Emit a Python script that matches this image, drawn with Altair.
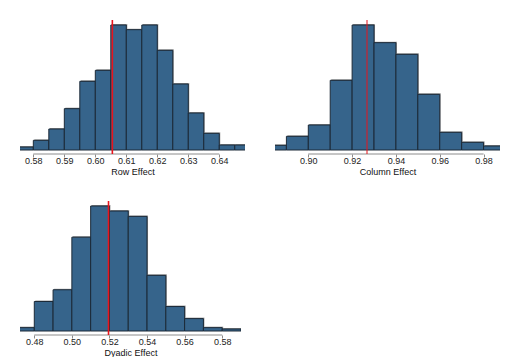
import altair as alt
import pandas as pd

# ---------------- data ----------------
row_bin_start = [0.575, 0.580, 0.585, 0.590, 0.595, 0.600, 0.605, 0.610,
                 0.615, 0.620, 0.625, 0.630, 0.635, 0.640, 0.645]
row_bin_end = [0.580, 0.585, 0.590, 0.595, 0.600, 0.605, 0.610, 0.615,
               0.620, 0.625, 0.630, 0.635, 0.640, 0.645, 0.650]
row_counts = [9, 29, 63, 124, 206, 239, 375, 361, 375, 299, 198, 111, 50, 15, 15]
row_ticks = [0.58, 0.59, 0.60, 0.61, 0.62, 0.63, 0.64]
row_domain = [0.5757, 0.6483]
row_obs = 0.6055

col_bin_start = [0.88, 0.89, 0.90, 0.91, 0.92, 0.93, 0.94, 0.95, 0.96, 0.97, 0.98]
col_bin_end = [0.89, 0.90, 0.91, 0.92, 0.93, 0.94, 0.95, 0.96, 0.97, 0.98, 0.99]
col_counts = [14, 41, 75, 209, 375, 322, 287, 167, 53, 23, 12]
col_ticks = [0.90, 0.92, 0.94, 0.96, 0.98]
col_domain = [0.8848, 0.9875]
col_obs = 0.9268

dy_bin_start = [0.47, 0.48, 0.49, 0.50, 0.51, 0.52, 0.53, 0.54, 0.55, 0.56, 0.57, 0.58]
dy_bin_end = [0.48, 0.49, 0.50, 0.51, 0.52, 0.53, 0.54, 0.55, 0.56, 0.57, 0.58, 0.59]
dy_counts = [10, 88, 123, 280, 373, 358, 342, 166, 73, 37, 10, 6]
dy_ticks = [0.48, 0.50, 0.52, 0.54, 0.56, 0.58]
dy_domain = [0.4724, 0.5900]
dy_obs = 0.5195

FILL = "#36648B"
EDGE = "#1c2a38"
SHADOW = "#9a9a9a"
AXIS_GREY = "#8c8c8c"
H = 134


def panel(starts, ends, counts, ticks, xdom, obs, title, width, red_w):
    df = pd.DataFrame({"start": starts, "end": ends, "count": counts})
    df["zero"] = 0
    m = max(counts)
    ydom = [-4 * m / 125.0, m + 5 * m / 125.0]
    xs = alt.Scale(domain=xdom, nice=False, zero=False)
    ys = alt.Scale(domain=ydom, nice=False, zero=False)

    xaxis = alt.Axis(values=ticks, format=".2f", title=title, domain=False,
                     grid=False, tickSize=3, tickColor=AXIS_GREY,
                     labelPadding=-1, titlePadding=2, labelFontSize=9,
                     labelOverlap=False, labelBound=False,
                     titleFontSize=9, titleFontWeight="normal",
                     labelColor="#222222", titleColor="#111111",
                     labelFont="Liberation Sans", titleFont="Liberation Sans")

    base = alt.Chart(df)
    shadow = base.mark_bar(fill=SHADOW, clip=True, xOffset=1, x2Offset=1,
                           yOffset=-1).encode(
        x=alt.X("start:Q", scale=xs, axis=xaxis),
        x2="end:Q",
        y=alt.Y("count:Q", scale=ys, axis=None),
        y2="zero:Q",
    )
    bars = base.mark_bar(fill=FILL, stroke=EDGE, strokeWidth=1,
                         clip=True).encode(
        x=alt.X("start:Q", scale=xs, axis=xaxis),
        x2="end:Q",
        y=alt.Y("count:Q", scale=ys, axis=None),
        y2="zero:Q",
    )
    axisline = alt.Chart(pd.DataFrame({"a": [ticks[0]], "b": [ticks[-1]]})).mark_rule(
        color=AXIS_GREY, strokeWidth=1).encode(
        x=alt.X("a:Q", scale=xs, axis=xaxis),
        x2="b:Q",
        y=alt.value(H),
    )
    red = alt.Chart(pd.DataFrame({"obs": [obs]})).mark_rule(
        color="#e8141c", strokeWidth=red_w).encode(
        x=alt.X("obs:Q", scale=xs, axis=xaxis),
        y=alt.value(0),
        y2=alt.value(H),
    )
    return alt.layer(shadow, bars, axisline, red).properties(width=width, height=H)


p1 = panel(row_bin_start, row_bin_end, row_counts, row_ticks, row_domain,
           row_obs, "Row Effect", 225, 1.6)
p2 = panel(col_bin_start, col_bin_end, col_counts, col_ticks, col_domain,
           col_obs, "Column Effect", 225, 1.0)
p3 = panel(dy_bin_start, dy_bin_end, dy_counts, dy_ticks, dy_domain,
           dy_obs, "Dyadic Effect", 221, 1.6)

top = alt.hconcat(p1, p2, spacing=30)
chart = alt.vconcat(top, p3, spacing=24).properties(
    padding={"left": 12, "top": 11, "right": 0, "bottom": 0},
    background="white",
).configure_view(stroke=None).configure_axis(labelOverlap=False)

chart.save("out.html", embed_options={"renderer": "svg", "actions": False})
